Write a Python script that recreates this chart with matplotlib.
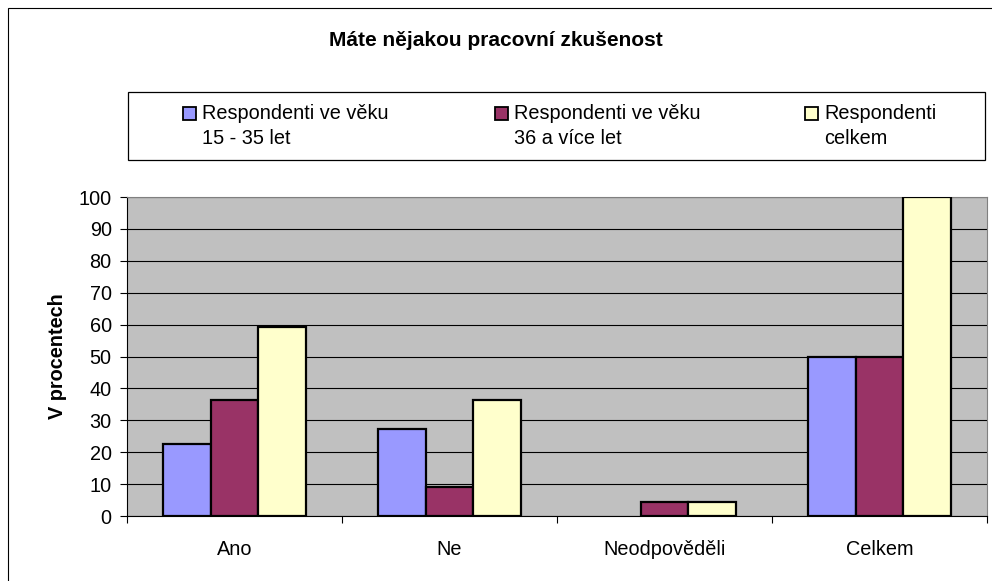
import numpy as np
import matplotlib.pyplot as plt
from matplotlib.patches import Rectangle

plt.rcParams['font.family'] = ['Liberation Sans', 'DejaVu Sans']

# Data (percent of respondents)
categories = ['Ano', 'Ne', 'Neodpověděli', 'Celkem']
young = [22.7, 27.3, 0.0, 50.0]
older = [36.4, 9.1, 4.5, 50.0]
total = [59.1, 36.4, 4.5, 100.0]
labels = ['Respondenti ve věku\n15 - 35 let',
          'Respondenti ve věku\n36 a více let',
          'Respondenti\ncelkem']
colors = ['#9999FF', '#993366', '#FFFFCC']

W, H = 992, 581
fig = plt.figure(figsize=(W / 100, H / 100), dpi=100)
ax = fig.add_axes([127 / W, 1 - 516 / H, 860 / W, 319 / H])
ax.set_facecolor('#C0C0C0')

x = np.arange(len(categories))
w = 0.223
for i, (vals, col) in enumerate(zip([young, older, total], colors)):
    vals = np.array(vals)
    mask = vals > 0
    ax.bar(x[mask] + (i - 1) * w, vals[mask], width=w, color=col,
           edgecolor='black', linewidth=1.6, zorder=3)

ax.set_ylim(0, 100)
ax.set_xlim(-0.5, len(categories) - 0.5)
ax.set_yticks(np.arange(0, 101, 10))
ax.yaxis.grid(True, color='black', linewidth=0.8, zorder=1)
ax.set_axisbelow(True)

# category labels between the boundary ticks
ax.set_xticks(np.arange(-0.5, len(categories), 1.0))
ax.set_xticklabels([])
ax.set_xticks(x, minor=True)
ax.set_xticklabels(categories, minor=True)
ax.tick_params(axis='x', which='minor', length=0, pad=17, labelsize=14.3)
ax.tick_params(axis='x', which='major', length=5, direction='out')
ax.tick_params(axis='y', length=5, direction='out', labelsize=14.3, pad=6)

for side in ['top', 'right']:
    ax.spines[side].set_color('#808080')
ax.spines['left'].set_color('black')
ax.spines['bottom'].set_color('black')

ax.set_ylabel('V procentech', fontsize=14.3, fontweight='bold', labelpad=8)

fig.text(0.5, 1 - 40 / H, 'Máte nějakou pracovní zkušenost', ha='center', va='center',
         fontsize=15, fontweight='bold')

# legend box
fig.patches.append(Rectangle((128 / W, 1 - 160 / H), 857 / W, 68 / H,
                             transform=fig.transFigure, fill=False,
                             edgecolor='black', linewidth=0.9))
hx = [183, 495, 805]
for px, lab, col in zip(hx, labels, colors):
    fig.patches.append(Rectangle((px / W, 1 - 120 / H), 13 / W, 13 / H,
                                 transform=fig.transFigure, facecolor=col,
                                 edgecolor='black', linewidth=1.3))
    fig.text((px + 19) / W, 1 - 104 / H, lab, ha='left', va='top',
             fontsize=14.3, linespacing=1.4)

# outer chart border
fig.patches.append(Rectangle((8 / W, -0.1), 1.2, 1.1 - 8 / H, transform=fig.transFigure,
                             fill=False, edgecolor='black', linewidth=0.8))

fig.savefig('out.png', dpi=100)
